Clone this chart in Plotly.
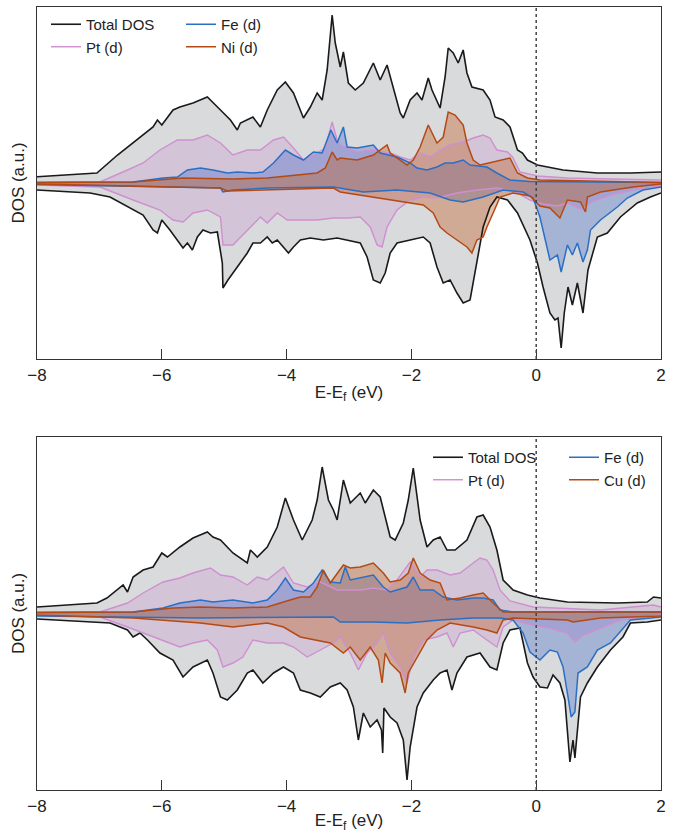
import plotly.graph_objects as go

# ---------------- DATA (E - Ef in eV, DOS in a.u.) ----------------
# Top panel (FePt + Ni)
top_total_up_E = [-8.00,-7.15,-7.04,-6.71,-6.46,-6.14,-6.07,-6.00,-5.82,-5.71,-5.50,-5.27,-5.06,-4.90,-4.79,-4.74,-4.54,-4.42,-4.31,-4.15,-4.02,-3.89,-3.73,-3.62,-3.51,-3.43,-3.35,-3.27,-3.22,-3.14,-3.09,-3.01,-2.90,-2.77,-2.61,-2.50,-2.39,-2.31,-2.18,-2.13,-2.02,-1.91,-1.83,-1.73,-1.67,-1.54,-1.46,-1.41,-1.33,-1.25,-1.17,-1.11,-1.03,-0.85,-0.74,-0.66,-0.53,-0.42,-0.30,-0.22,-0.14,0.02,0.43,0.98,1.51,2.00]
top_total_up = [0.63,1.0,1.0,2.8,4.0,5.6,6.3,5.8,7.3,7.6,8.0,8.6,7.3,6.3,5.3,6.0,6.6,5.6,7.3,9.3,10.1,9.0,6.5,7.6,9.0,8.3,11.3,16.8,14.0,11.6,13.1,10.0,9.3,10.0,12.0,10.3,11.8,10.0,7.0,6.5,8.3,9.0,8.3,10.5,9.3,7.5,10.6,13.5,13.0,12.0,13.3,11.0,9.6,9.3,8.3,6.6,6.3,5.6,3.3,3.0,2.3,1.8,1.3,1.0,1.0,1.1]
top_total_dn_E = [-8.00,-7.15,-6.83,-6.46,-6.30,-6.14,-6.07,-6.00,-5.87,-5.66,-5.59,-5.51,-5.43,-5.34,-5.22,-5.11,-5.03,-5.02,-4.94,-4.79,-4.63,-4.54,-4.42,-4.31,-4.23,-4.15,-4.05,-3.97,-3.89,-3.78,-3.62,-3.41,-3.19,-3.03,-2.82,-2.71,-2.61,-2.50,-2.42,-2.34,-2.23,-2.02,-1.81,-1.70,-1.59,-1.49,-1.38,-1.27,-1.17,-1.06,-1.01,-0.95,-0.85,-0.74,-0.63,-0.46,-0.30,-0.10,0.02,0.11,0.22,0.30,0.35,0.40,0.45,0.51,0.58,0.66,0.75,0.83,0.98,1.14,1.35,1.62,1.83,2.00]
top_total_dn = [-0.7,-1.0,-1.4,-2.7,-3.2,-4.7,-5.0,-3.7,-4.7,-6.5,-6.0,-6.7,-5.4,-4.7,-5.0,-4.9,-8.0,-10.5,-9.7,-8.4,-7.0,-6.0,-6.0,-5.4,-6.0,-5.7,-6.4,-7.0,-6.4,-5.7,-5.5,-5.7,-5.5,-5.7,-6.0,-7.4,-9.7,-10.0,-9.0,-7.0,-6.0,-5.7,-5.4,-6.0,-8.4,-10.0,-9.7,-11.0,-12.0,-11.7,-10.0,-7.7,-4.4,-2.4,-1.4,-1.7,-3.0,-5.7,-8.0,-10.4,-13.0,-13.7,-13.5,-16.5,-13.0,-10.4,-12.2,-10.0,-13.0,-8.7,-5.4,-5.0,-3.4,-2.0,-1.4,-1.0]
top_pt_up_E = [-8.00,-6.99,-6.55,-6.30,-6.03,-5.75,-5.50,-5.27,-5.06,-4.86,-4.63,-4.42,-4.21,-4.05,-3.89,-3.73,-3.51,-3.38,-3.27,-3.19,-3.14,-2.87,-2.61,-2.34,-2.18,-2.02,-1.86,-1.70,-1.54,-1.38,-1.17,-1.01,-0.85,-0.74,-0.63,-0.46,-0.38,-0.26,0.02,0.50,2.00]
top_pt_up = [0.05,0.1,1.3,2.0,3.3,4.3,4.3,4.8,4.0,2.8,3.3,3.3,4.3,4.6,3.5,2.3,3.0,3.5,6.1,4.3,3.8,3.1,3.3,3.0,2.6,2.3,3.0,2.6,3.3,3.8,4.1,4.5,4.8,4.5,3.3,3.1,2.6,1.1,0.7,0.5,0.3]
top_pt_dn_E = [-8.00,-6.99,-6.46,-6.03,-5.82,-5.66,-5.50,-5.27,-5.06,-5.02,-4.86,-4.63,-4.42,-4.31,-4.15,-3.99,-3.78,-3.51,-3.25,-3.03,-2.82,-2.66,-2.55,-2.47,-2.39,-2.23,-2.02,-1.81,-1.59,-1.27,-0.95,-0.63,-0.46,-0.30,-0.10,0.11,0.34,0.50,0.58,0.75,0.87,1.19,1.55,2.00]
top_pt_dn = [-0.2,-0.4,-1.7,-2.7,-3.7,-3.9,-3.0,-2.7,-3.4,-6.2,-6.2,-4.7,-3.4,-4.0,-3.0,-3.7,-3.7,-3.7,-3.5,-3.5,-3.4,-4.4,-6.2,-6.4,-4.4,-2.7,-1.7,-1.4,-1.5,-1.0,-0.7,-0.5,-0.7,-1.0,-1.7,-2.1,-2.3,-2.0,-2.2,-2.7,-1.9,-1.2,-0.7,-0.3]
top_fe_up_E = [-8.00,-6.46,-5.98,-5.75,-5.59,-5.38,-5.18,-4.95,-4.79,-4.54,-4.38,-4.21,-4.02,-3.89,-3.73,-3.57,-3.43,-3.29,-3.19,-3.09,-3.03,-2.87,-2.61,-2.50,-2.23,-2.02,-1.91,-1.75,-1.59,-1.46,-1.33,-1.17,-1.06,-0.79,-0.63,-0.42,-0.10,2.00]
top_fe_up = [0.05,0.1,0.5,0.6,1.3,1.5,1.3,1.0,1.1,1.0,1.1,2.0,3.3,2.8,2.3,3.1,3.0,5.3,4.0,5.6,3.6,3.5,3.8,3.0,2.6,2.0,1.5,1.3,1.6,2.0,2.0,2.3,1.8,1.6,1.0,0.3,0.15,0.05]
top_fe_dn_E = [-8.00,-5.06,-5.02,-4.86,-4.31,-3.25,-2.77,-2.23,-1.70,-1.38,-1.17,-0.85,-0.53,-0.21,-0.05,0.06,0.22,0.34,0.40,0.50,0.58,0.66,0.75,0.82,0.87,1.03,1.30,1.46,1.71,2.00]
top_fe_dn = [-0.15,-0.5,-0.9,-0.7,-0.5,-0.4,-0.9,-0.7,-1.0,-1.7,-1.9,-1.4,-0.7,-0.9,-1.5,-3.4,-7.7,-7.2,-8.9,-6.2,-7.2,-6.0,-7.9,-6.7,-4.7,-3.7,-2.4,-1.5,-0.7,-0.4]
top_ni_up_E = [-8.00,-6.46,-5.66,-4.86,-4.31,-3.89,-3.51,-3.38,-3.27,-3.19,-3.14,-2.87,-2.61,-2.39,-2.34,-2.07,-1.97,-1.86,-1.73,-1.59,-1.49,-1.41,-1.30,-1.17,-1.11,-1.01,-0.90,-0.69,-0.42,-0.30,-0.14,0.06,2.00]
top_ni_up = [0.05,0.1,0.5,0.4,0.5,0.8,1.0,1.5,3.1,2.3,2.5,2.3,2.8,3.8,3.0,1.8,2.3,3.6,5.8,4.0,4.6,7.1,6.8,5.8,4.0,2.3,1.8,2.1,2.5,1.0,0.5,0.3,0.05]
top_ni_dn_E = [-8.00,-5.06,-4.95,-4.31,-3.25,-3.14,-2.61,-2.34,-2.07,-1.81,-1.65,-1.54,-1.43,-1.27,-1.11,-1.03,-0.95,-0.85,-0.79,-0.69,-0.58,-0.37,-0.10,0.06,0.22,0.38,0.50,0.71,0.79,0.82,1.03,1.55,2.00]
top_ni_dn = [-0.1,-0.5,-0.8,-0.7,-0.5,-0.9,-1.4,-1.7,-1.9,-2.2,-3.0,-4.4,-5.0,-5.7,-6.4,-7.0,-5.7,-5.4,-4.4,-3.0,-1.4,-1.0,-1.3,-2.3,-2.5,-3.5,-1.7,-1.9,-2.9,-1.4,-0.9,-0.4,-0.1]

# Bottom panel (FePt + Cu)
bot_total_up_E = [-8.00,-7.04,-6.88,-6.62,-6.55,-6.46,-6.30,-6.14,-6.00,-5.91,-5.71,-5.50,-5.27,-5.18,-5.06,-4.86,-4.63,-4.58,-4.47,-4.31,-4.15,-4.02,-3.89,-3.75,-3.59,-3.51,-3.43,-3.33,-3.25,-3.19,-3.09,-2.98,-2.82,-2.74,-2.61,-2.50,-2.34,-2.26,-2.13,-2.05,-1.97,-1.86,-1.75,-1.65,-1.54,-1.43,-1.30,-1.11,-0.95,-0.85,-0.74,-0.63,-0.53,-0.37,-0.14,0.06,0.50,1.30,1.78,1.88,2.00]
bot_total_up = [0.6,1.0,1.5,2.8,2.1,3.6,4.3,4.6,6.0,5.6,6.6,7.5,8.1,7.6,7.3,6.0,5.0,6.3,5.6,6.6,8.6,11.5,9.3,7.3,9.3,11.3,14.6,11.3,10.3,9.3,13.3,11.0,12.0,11.0,12.3,11.6,7.6,7.3,9.0,11.3,14.5,9.3,6.6,7.3,7.6,6.3,6.3,7.3,9.6,9.8,8.6,6.3,3.3,2.3,1.8,1.5,1.1,1.0,1.1,1.6,1.5]
bot_total_dn_E = [-8.00,-6.83,-6.55,-6.46,-6.35,-6.23,-6.03,-5.82,-5.66,-5.50,-5.27,-5.18,-5.06,-4.95,-4.79,-4.63,-4.54,-4.38,-4.21,-4.05,-3.89,-3.78,-3.62,-3.46,-3.30,-3.14,-3.03,-2.93,-2.85,-2.77,-2.66,-2.55,-2.48,-2.46,-2.44,-2.34,-2.23,-2.13,-2.07,-2.02,-1.91,-1.81,-1.65,-1.54,-1.43,-1.35,-1.27,-1.11,-0.90,-0.74,-0.63,-0.53,-0.42,-0.26,-0.14,-0.05,0.06,0.18,0.27,0.38,0.46,0.54,0.59,0.62,0.71,0.82,0.98,1.19,1.39,1.51,1.78,2.00]
bot_total_dn = [-0.6,-1.0,-1.7,-2.4,-2.0,-2.7,-4.0,-4.7,-6.4,-5.4,-4.7,-6.0,-8.4,-8.7,-7.7,-6.0,-5.7,-7.0,-6.0,-5.4,-6.0,-7.7,-8.0,-8.4,-7.4,-7.0,-7.7,-9.4,-12.7,-10.0,-11.4,-10.7,-11.7,-14.0,-9.5,-10.4,-11.0,-12.7,-16.7,-13.4,-9.4,-8.0,-6.7,-6.0,-5.7,-7.7,-6.0,-4.4,-4.0,-5.4,-5.7,-3.0,-1.7,-1.5,-5.0,-6.4,-7.4,-7.5,-6.2,-7.0,-8.7,-14.9,-12.7,-14.5,-8.4,-7.0,-5.4,-3.7,-2.4,-1.0,-0.9,-0.7]
bot_pt_up_E = [-8.00,-6.99,-6.55,-6.30,-5.98,-5.71,-5.50,-5.22,-5.06,-4.86,-4.63,-4.47,-4.31,-4.05,-3.89,-3.67,-3.46,-3.19,-2.82,-2.61,-2.39,-2.23,-2.02,-1.86,-1.75,-1.59,-1.38,-1.22,-1.01,-0.90,-0.79,-0.69,-0.58,-0.42,-0.05,1.03,1.88,2.00]
bot_pt_up = [0.05,0.1,1.0,2.0,3.1,3.5,4.0,4.5,3.8,3.6,2.8,3.6,3.3,4.6,3.0,2.6,3.1,2.3,2.3,2.5,2.3,3.3,5.1,3.6,4.3,4.3,3.8,4.0,5.0,5.5,5.3,4.3,2.3,1.2,0.6,0.3,0.8,0.6]
bot_pt_dn_E = [-8.00,-6.99,-6.55,-6.30,-6.03,-5.71,-5.50,-5.27,-5.11,-5.02,-4.86,-4.70,-4.54,-4.31,-4.05,-3.89,-3.67,-3.46,-3.25,-3.14,-2.98,-2.85,-2.71,-2.55,-2.45,-2.34,-2.18,-2.07,-1.97,-1.81,-1.59,-1.43,-1.33,-1.22,-1.01,-0.79,-0.63,-0.53,-0.37,-0.05,0.22,0.50,0.62,0.75,1.03,1.35,2.00]
bot_pt_dn = [-0.2,-0.4,-1.4,-2.0,-2.7,-3.4,-3.0,-2.7,-3.7,-5.4,-5.0,-4.4,-2.7,-3.0,-3.0,-3.4,-4.4,-3.7,-3.0,-2.4,-4.0,-5.7,-4.0,-3.0,-2.0,-4.0,-5.4,-7.0,-4.4,-2.7,-2.4,-2.0,-3.4,-2.0,-1.7,-2.7,-3.4,-1.4,-0.7,-1.2,-1.5,-2.0,-2.9,-2.2,-1.5,-0.7,-0.2]
bot_fe_up_E = [-8.00,-6.46,-5.98,-5.71,-5.38,-5.18,-4.86,-4.54,-4.31,-4.15,-4.02,-3.89,-3.73,-3.57,-3.43,-3.30,-3.14,-3.06,-2.98,-2.82,-2.61,-2.45,-2.34,-2.07,-1.97,-1.86,-1.65,-1.49,-1.27,-1.01,-0.85,-0.69,-0.58,-0.37,2.00]
bot_fe_up = [0.05,0.1,0.5,1.0,1.3,1.1,1.3,1.0,1.3,2.3,3.5,2.3,2.1,3.0,4.3,3.1,3.0,4.6,3.3,3.5,3.8,2.6,2.1,2.6,3.6,2.3,2.3,1.6,1.3,1.5,1.5,1.3,0.3,0.1,0.1]
bot_fe_dn_E = [-8.00,-5.38,-3.25,-3.14,-2.61,-2.07,-1.54,-1.01,-0.58,-0.37,-0.21,-0.10,0.06,0.22,0.34,0.43,0.51,0.56,0.62,0.67,0.82,0.98,1.19,1.35,1.51,2.00]
bot_fe_dn = [-0.3,-0.5,-0.4,-0.9,-0.9,-1.0,-0.7,-0.5,-0.5,-0.7,-2.0,-3.9,-4.7,-3.7,-3.9,-5.4,-8.4,-10.4,-9.9,-6.0,-5.4,-3.7,-3.0,-1.9,-0.7,-0.4]
bot_cu_up_E = [-8.00,-6.46,-5.82,-5.38,-4.86,-4.31,-4.05,-3.78,-3.62,-3.51,-3.41,-3.30,-3.09,-2.98,-2.82,-2.61,-2.45,-2.34,-2.18,-2.05,-1.97,-1.86,-1.70,-1.54,-1.43,-1.22,-1.01,-0.85,-0.69,-0.53,2.00]
bot_cu_up = [0.05,0.1,0.5,0.6,0.5,0.6,1.1,1.6,1.6,2.6,4.3,3.0,4.8,4.5,4.6,5.0,4.0,3.1,3.3,4.0,5.5,4.0,3.3,3.0,1.3,1.5,1.8,2.0,1.0,0.1,0.1]
bot_cu_dn_E = [-8.00,-6.46,-5.38,-4.86,-4.31,-4.05,-3.78,-3.51,-3.30,-3.09,-2.98,-2.82,-2.66,-2.53,-2.47,-2.42,-2.34,-2.18,-2.10,-2.05,-1.91,-1.75,-1.59,-1.38,-1.01,-0.79,-0.63,-0.53,-0.37,0.50,0.59,1.03,2.00]
bot_cu_dn = [-0.2,-0.5,-1.0,-1.4,-1.0,-1.4,-2.4,-2.7,-3.0,-4.0,-3.4,-4.7,-3.4,-4.7,-7.0,-4.0,-5.0,-6.0,-8.0,-6.0,-4.4,-2.7,-1.7,-1.0,-1.4,-1.7,-2.0,-0.7,-0.5,-0.7,-0.9,-0.5,-0.3]

x_ticks = [-8, -6, -4, -2, 0, 2]
series_names_top = ["Total DOS", "Pt (d)", "Fe (d)", "Ni (d)"]
series_names_bot = ["Total DOS", "Pt (d)", "Fe (d)", "Cu (d)"]

# ---------------- STYLE ----------------
FONT = "Liberation Sans, Arial, sans-serif"
line_colors = ["#1a1a1a", "#cf8fd0", "#2a6fc4", "#b34a16"]
fill_colors = ["rgb(217,218,220)", "rgba(195,140,200,0.26)",
               "rgba(45,90,200,0.30)", "rgba(190,85,25,0.36)"]
line_widths = [1.6, 1.4, 1.5, 1.5]

fig = go.Figure()

panels = [
    ("x", "y", [(top_total_up_E, top_total_up, top_total_dn_E, top_total_dn),
                (top_pt_up_E, top_pt_up, top_pt_dn_E, top_pt_dn),
                (top_fe_up_E, top_fe_up, top_fe_dn_E, top_fe_dn),
                (top_ni_up_E, top_ni_up, top_ni_dn_E, top_ni_dn)],
     series_names_top, ["legend", "legend", "legend2", "legend2"]),
    ("x2", "y2", [(bot_total_up_E, bot_total_up, bot_total_dn_E, bot_total_dn),
                  (bot_pt_up_E, bot_pt_up, bot_pt_dn_E, bot_pt_dn),
                  (bot_fe_up_E, bot_fe_up, bot_fe_dn_E, bot_fe_dn),
                  (bot_cu_up_E, bot_cu_up, bot_cu_dn_E, bot_cu_dn)],
     series_names_bot, ["legend3", "legend3", "legend4", "legend4"]),
]

for xa, ya, series, names, legs in panels:
    # fills first
    for i, (ue, uv, de, dv) in enumerate(series):
        for e, v in ((ue, uv), (de, dv)):
            fig.add_trace(go.Scatter(x=e, y=v, xaxis=xa, yaxis=ya, mode="lines",
                                     line=dict(width=0, color=line_colors[i]),
                                     fill="tozeroy", fillcolor=fill_colors[i],
                                     showlegend=False, hoverinfo="skip"))
    # lines on top
    for i, (ue, uv, de, dv) in enumerate(series):
        fig.add_trace(go.Scatter(x=ue, y=uv, xaxis=xa, yaxis=ya, mode="lines",
                                 line=dict(width=line_widths[i], color=line_colors[i]),
                                 name=names[i], legend=legs[i], showlegend=True))
        fig.add_trace(go.Scatter(x=de, y=dv, xaxis=xa, yaxis=ya, mode="lines",
                                 line=dict(width=line_widths[i], color=line_colors[i]),
                                 name=names[i], legend=legs[i], showlegend=False))

W, H = 678, 833
ml, mr, mt, mb = 37, 17, 7, 43
pw = W - ml - mr
ph = H - mt - mb

def fx(px):
    return (px - ml) / pw

def fy(px):
    return (H - mb - px) / ph

axis_common = dict(range=[-8, 2], tickvals=x_ticks, ticks="inside", ticklen=10,
                   tickwidth=1.2, tickcolor="#333", showline=True, linecolor="#333",
                   linewidth=1.2, mirror=True, showgrid=False, zeroline=False,
                   automargin=False,
                   tickfont=dict(family=FONT, size=17, color="#222"),
                   title=dict(text="E-E<sub>f</sub> (eV)", standoff=2,
                              font=dict(family=FONT, size=17, color="#222")))
yaxis_common = dict(showticklabels=False, ticks="", showline=True, linecolor="#333",
                    linewidth=1.2, mirror=True, showgrid=False, zeroline=False,
                    automargin=False,
                    title=dict(text="DOS (a.u.)", standoff=6,
                               font=dict(family=FONT, size=17, color="#222")))

legend_common = dict(font=dict(family=FONT, size=15, color="#222"), bgcolor="rgba(0,0,0,0)",
                     borderwidth=0, xref="paper", yref="paper",
                     xanchor="left", yanchor="top", tracegroupgap=0, itemwidth=30)

fig.update_layout(
    width=W, height=H, margin=dict(l=ml, r=mr, t=mt, b=mb, autoexpand=False),
    paper_bgcolor="white", plot_bgcolor="white",
    xaxis=dict(domain=[0, 1], anchor="y", **axis_common),
    yaxis=dict(domain=[fy(359), 1], anchor="x", range=[-17.6, 17.6], **yaxis_common),
    xaxis2=dict(domain=[0, 1], anchor="y2", **axis_common),
    yaxis2=dict(domain=[0, fy(437)], anchor="x2", range=[-17.7, 17.6], **yaxis_common),
    legend=dict(x=fx(46), y=fy(8), **legend_common),
    legend2=dict(x=fx(181), y=fy(8), **legend_common),
    legend3=dict(x=fx(428), y=fy(441), **legend_common),
    legend4=dict(x=fx(564), y=fy(441), **legend_common),
    showlegend=True,
)

for xa, ya in (("x", "y"), ("x2", "y2")):
    fig.add_shape(type="line", x0=0, x1=0, y0=0, y1=1, xref=xa, yref=ya + " domain",
                  line=dict(color="#444", width=1.5, dash="dot"), layer="above")

fig.write_html("out.html", config={"displayModeBar": False},
               post_script="document.body.style.margin='0';")
